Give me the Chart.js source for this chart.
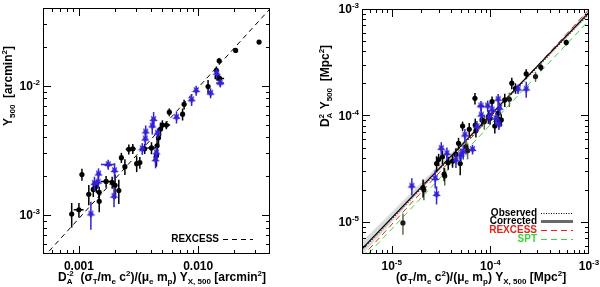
<!DOCTYPE html>
<html>
<head>
<meta charset="utf-8">
<script src="https://cdn.jsdelivr.net/npm/chart.js@4.4.1/dist/chart.umd.min.js"></script>
<style>
html, body { margin: 0; padding: 0; background: #fff; }
#wrap { position: relative; width: 600px; height: 287px; }
.box { position: absolute; top: 0; width: 300px; height: 287px; }
</style>
</head>
<body>
<div id="wrap">
  <div class="box" style="left:0"><canvas id="left" width="300" height="287"></canvas></div>
  <div class="box" style="left:300px"><canvas id="right" width="300" height="287"></canvas></div>
</div>
<script>
// ---- left panel data: Y500 vs Y_X (arcmin^2) ----
var leftBlackX    = [8.7e-4, 1.00e-3, 1.06e-3, 1.21e-3, 1.32e-3, 1.40e-3, 1.48e-3, 1.48e-3, 1.69e-3, 1.90e-3, 2.01e-3, 2.16e-3, 2.27e-3, 2.43e-3, 2.62e-3, 2.83e-3, 3.05e-3, 3.24e-3, 3.56e-3, 4.06e-3, 4.47e-3, 4.52e-3, 4.65e-3, 4.83e-3, 5.01e-3, 5.41e-3, 5.73e-3, 7.40e-3, 7.62e-3, 1.21e-2, 1.42e-2, 1.44e-2, 1.51e-2, 1.50e-2, 2.06e-2, 3.24e-2];
var leftBlackY    = [1.02e-3, 1.10e-3, 2.06e-3, 1.45e-3, 1.58e-3, 1.67e-3, 1.28e-3, 1.50e-3, 1.82e-3, 1.79e-3, 1.70e-3, 1.55e-3, 2.78e-3, 2.37e-3, 3.23e-3, 3.26e-3, 2.50e-3, 2.55e-3, 3.26e-3, 3.31e-3, 2.88e-3, 3.44e-3, 3.96e-3, 4.63e-3, 4.97e-3, 4.97e-3, 6.25e-3, 6.03e-3, 7.19e-3, 9.88e-3, 1.32e-2, 1.18e-2, 1.14e-2, 1.56e-2, 1.88e-2, 2.18e-2];
var leftBlackYErr = [2.2e-4, 1.4e-4, 2.2e-4, 2.6e-4, 2.0e-4, 1.8e-4, 2.3e-4, 1.6e-4, 1.9e-4, 1.9e-4, 3.6e-4, 3.3e-4, 2.5e-4, 3.3e-4, 2.9e-4, 2.9e-4, 3.5e-4, 2.7e-4, 2.9e-4, 3.5e-4, 5.1e-4, 4.9e-4, 5.6e-4, 5.7e-4, 4.4e-4, 3.5e-4, 4.4e-4, 6.4e-4, 6.3e-4, 1.2e-3, 9.3e-4, 8.3e-4, 6.0e-4, 8.0e-4, 6.6e-4, 7.7e-4];
var leftBlackXErr = [0, 9.5e-5, 0, 0, 0, 0, 0, 0, 1.6e-4, 0, 0, 0, 0, 0, 1.5e-4, 1.6e-4, 0, 0, 0, 3.1e-4, 0, 0, 0, 0, 0, 4.1e-4, 0, 0, 0, 0, 4.0e-4, 0, 1.4e-3, 0, 0, 0];

var leftBlueX    = [1.26e-3, 1.35e-3, 1.45e-3, 1.46e-3, 1.76e-3, 1.99e-3, 1.97e-3, 3.40e-3, 3.60e-3, 3.63e-3, 4.12e-3, 4.23e-3, 4.39e-3, 4.47e-3, 4.56e-3, 6.58e-3, 8.81e-3, 9.62e-3, 1.27e-2, 1.43e-2, 1.53e-2];
var leftBlueY    = [1.02e-3, 1.76e-3, 1.80e-3, 2.08e-3, 2.46e-3, 2.21e-3, 1.40e-3, 3.26e-3, 3.88e-3, 4.40e-3, 4.89e-3, 5.50e-3, 2.68e-3, 3.03e-3, 4.31e-3, 5.71e-3, 7.81e-3, 9.20e-3, 8.78e-3, 1.25e-2, 1.05e-2];
var leftBlueYErr = [2.5e-4, 2.2e-4, 1.8e-4, 2.2e-4, 2.2e-4, 3.1e-4, 2.5e-4, 3.4e-4, 4.0e-4, 5.4e-4, 6.9e-4, 7.7e-4, 3.8e-4, 3.2e-4, 3.8e-4, 6.0e-4, 8.3e-4, 8.1e-4, 7.7e-4, 1.1e-3, 7.4e-4];
var leftBlueXErr = [0, 0, 0, 0, 2.3e-4, 0, 0, 0, 0, 0, 0, 0, 0, 0, 0, 0, 0, 0, 0, 0, 1.16e-3];

var leftRexX = [5e-4, 4e-2];
var leftRexY = [4.67e-4, 3.94e-2];

var leftXTicks = [1e-3, 1e-2];
var leftXTickLabels = ['0.001', '0.010'];
var leftYTicks = [1e-3, 1e-2];
var leftYTickExp = ['-3', '-2'];

// ---- right panel data: D_A^2 Y500 vs Y_X (Mpc^2) ----
var rightBlackX    = [2.08e-5, 2.85e-5, 2.99e-5, 3.27e-5, 3.40e-5, 3.74e-5, 4.14e-5, 4.48e-5, 4.76e-5, 4.95e-5, 5.23e-5, 6.11e-5, 6.98e-5, 7.03e-5, 7.14e-5, 8.23e-5, 9.55e-5, 9.93e-5, 1.04e-4, 1.11e-4, 1.20e-4, 1.24e-4, 1.29e-4, 1.40e-4, 1.65e-4, 1.80e-4, 2.31e-4, 3.25e-4, 5.88e-4];
var rightBlackY    = [2.10e-5, 3.54e-5, 3.86e-5, 4.09e-5, 2.81e-5, 3.60e-5, 3.73e-5, 4.31e-5, 5.47e-5, 3.54e-5, 7.96e-5, 7.41e-5, 1.45e-4, 8.14e-5, 7.20e-5, 9.08e-5, 9.75e-5, 9.40e-5, 1.35e-4, 7.96e-5, 1.05e-4, 8.75e-5, 9.08e-5, 1.40e-4, 2.01e-4, 1.80e-4, 2.46e-4, 2.83e-4, 4.85e-4];
var rightBlackYErr = [4e-6, 6e-6, 5e-6, 6e-6, 4e-6, 5e-6, 5e-6, 6e-6, 7e-6, 8e-6, 8e-6, 1.1e-5, 1.8e-5, 1.2e-5, 1.0e-5, 1.2e-5, 1.4e-5, 1.2e-5, 1.6e-5, 1.2e-5, 1.5e-5, 1.0e-5, 1.2e-5, 2.0e-5, 2.5e-5, 2.0e-5, 2.5e-5, 2.0e-5, 3.0e-5];

var rightOliveX    = [1.30e-5, 2.12e-5, 3.45e-5, 5.66e-5, 5.88e-5, 8.69e-5, 1.56e-4, 2.87e-4];
var rightOliveY    = [9.8e-6, 2.0e-5, 2.7e-5, 5.08e-5, 4.67e-5, 8.75e-5, 1.42e-4, 2.32e-4];
var rightOliveYErr = [2.2e-6, 4e-6, 5e-6, 8e-6, 8e-6, 1.4e-5, 2.2e-5, 2.5e-5];

var rightBlueX    = [1.60e-5, 2.76e-5, 2.85e-5, 3.18e-5, 3.63e-5, 4.48e-5, 5.04e-5, 5.31e-5, 5.52e-5, 6.60e-5, 7.31e-5, 8.03e-5, 8.09e-5, 9.39e-5, 9.77e-5, 1.04e-4, 1.14e-4, 1.20e-4, 1.22e-4, 1.24e-4, 1.91e-4, 2.31e-4];
var rightBlueY    = [2.17e-5, 2.56e-5, 1.81e-5, 4.91e-5, 4.40e-5, 3.81e-5, 4.25e-5, 4.56e-5, 6.55e-5, 4.80e-5, 7.85e-5, 1.23e-4, 1.01e-4, 1.23e-4, 9.75e-5, 1.13e-4, 9.40e-5, 1.42e-4, 8.32e-5, 1.17e-4, 1.77e-4, 1.77e-4];
var rightBlueYErr = [4e-6, 5e-6, 3.5e-6, 7e-6, 6e-6, 6e-6, 6e-6, 7e-6, 9e-6, 5e-6, 1e-5, 1.4e-5, 1.4e-5, 1.5e-5, 1.4e-5, 1.4e-5, 1.2e-5, 1.7e-5, 1.0e-5, 1.6e-5, 1.8e-5, 3.0e-5];
var rightBlueXErr = [0, 0, 0, 0, 0, 0, 0, 0, 0, 0, 0, 6e-6, 0, 0, 0, 0, 0, 0, 0, 0, 0, 0];

var rightObsX = [5e-6, 1e-3];
var rightObsY = [5.4e-6, 9.0e-4];
var rightCorX = [5e-6, 1e-3];
var rightCorY = [5.6e-6, 9.3e-4];
var rightRexX = [5e-6, 1e-3];
var rightRexY = [4.7e-6, 9.9e-4];
var rightSptX = [5e-6, 1e-3];
var rightSptY = [4.35e-6, 7.8e-4];
var rightBandX  = [5e-6, 2e-5, 1e-4, 4e-4, 1e-3];
var rightBandHi = [6.5e-6, 2.35e-5, 1.04e-4, 3.95e-4, 9.9e-4];
var rightBandLo = [4.9e-6, 2.02e-5, 1.0e-4, 3.77e-4, 8.7e-4];

var rightXTicks = [1e-5, 1e-4, 1e-3];
var rightXTickExp = ['-5', '-4', '-3'];
var rightYTicks = [1e-5, 1e-4, 1e-3];
var rightYTickExp = ['-5', '-4', '-3'];

var FAMILY = '"Liberation Sans", Arial, Helvetica, sans-serif';
var BLUE = '#3322d6';

function pts(xs, ys) {
  return xs.map(function (x, i) { return { x: x, y: ys[i] }; });
}

function starImg(color, r) {
  var c = document.createElement('canvas');
  var s = Math.ceil(r * 2 + 2);
  c.width = s; c.height = s;
  var g = c.getContext('2d');
  g.fillStyle = color;
  g.beginPath();
  for (var i = 0; i < 10; i++) {
    var a = Math.PI / 2 + i * Math.PI / 5;
    var rr = (i % 2) ? r * 0.45 : r;
    g.lineTo(s / 2 + rr * Math.cos(a), s / 2 + rr * Math.sin(a));
  }
  g.closePath();
  g.fill();
  return c;
}

// rich text: segments are [text, kind, text2]; kind '' | 'sup' | 'sub' | 'both'
function drawRich(ctx, segs, x, y, size, align) {
  var sm = Math.round(size * 0.68);
  var big = 'bold ' + size + 'px ' + FAMILY;
  var small = 'bold ' + sm + 'px ' + FAMILY;
  var widths = segs.map(function (s) {
    if (!s[1]) { ctx.font = big; return ctx.measureText(s[0]).width; }
    ctx.font = small;
    var w = ctx.measureText(s[0]).width;
    if (s[1] === 'both') w = Math.max(w, ctx.measureText(s[2]).width);
    return w;
  });
  var total = widths.reduce(function (a, b) { return a + b; }, 0);
  var cx = align === 'center' ? x - total / 2 : (align === 'right' ? x - total : x);
  var base = y + size * 0.35;
  ctx.textAlign = 'left';
  ctx.textBaseline = 'alphabetic';
  segs.forEach(function (s, i) {
    if (!s[1]) {
      ctx.font = big; ctx.fillText(s[0], cx, base);
    } else {
      ctx.font = small;
      if (s[1] === 'sup') ctx.fillText(s[0], cx, base - size * 0.42);
      if (s[1] === 'sub') ctx.fillText(s[0], cx, base + size * 0.22);
      if (s[1] === 'both') {
        ctx.fillText(s[0], cx, base + size * 0.22);
        ctx.fillText(s[2], cx, base - size * 0.45);
      }
    }
    cx += widths[i];
  });
}

var errorBars = {
  id: 'errorBars',
  beforeDatasetDraw: function (chart, args) {
    var ds = chart.data.datasets[args.index];
    if (!ds.yErr) return;
    var xs = chart.scales.x, ys = chart.scales.y, a = chart.chartArea;
    var ctx = chart.ctx;
    ctx.save();
    ctx.beginPath();
    ctx.rect(a.left, a.top, a.right - a.left, a.bottom - a.top);
    ctx.clip();
    ctx.strokeStyle = ds.errColor;
    ctx.lineWidth = 1.5;
    ds.data.forEach(function (p, i) {
      var px = xs.getPixelForValue(p.x), py = ys.getPixelForValue(p.y);
      var ey = ds.yErr[i], ex = ds.xErr ? ds.xErr[i] : 0;
      ctx.beginPath();
      if (ey) {
        ctx.moveTo(px, ys.getPixelForValue(p.y - ey));
        ctx.lineTo(px, ys.getPixelForValue(p.y + ey));
      }
      if (ex) {
        ctx.moveTo(xs.getPixelForValue(p.x - ex), py);
        ctx.lineTo(xs.getPixelForValue(p.x + ex), py);
      }
      ctx.stroke();
    });
    ctx.restore();
  }
};

var frame = {
  id: 'frame',
  afterDraw: function (chart) {
    var o = chart.options.plugins.frame;
    var ctx = chart.ctx, a = chart.chartArea;
    var xs = chart.scales.x, ys = chart.scales.y;
    ctx.save();
    ctx.strokeStyle = '#000';
    ctx.lineWidth = 1;
    ctx.strokeRect(a.left + 0.5, a.top + 0.5, a.right - a.left - 1, a.bottom - a.top - 1);
    ctx.beginPath();
    function logTicks(sc, fn) {
      var lo = Math.floor(Math.log10(sc.min)), hi = Math.ceil(Math.log10(sc.max));
      for (var d = lo; d <= hi; d++) {
        for (var m = 1; m <= 9; m++) {
          var v = m * Math.pow(10, d);
          if (v < sc.min * 1.0001 || v > sc.max * 0.9999) continue;
          fn(Math.round(sc.getPixelForValue(v)) + 0.5, m === 1 ? 8 : 4);
        }
      }
    }
    logTicks(xs, function (p, len) {
      ctx.moveTo(p, a.bottom); ctx.lineTo(p, a.bottom - len);
      ctx.moveTo(p, a.top); ctx.lineTo(p, a.top + len);
    });
    logTicks(ys, function (p, len) {
      ctx.moveTo(a.left, p); ctx.lineTo(a.left + len, p);
      ctx.moveTo(a.right, p); ctx.lineTo(a.right - len, p);
    });
    ctx.stroke();

    ctx.fillStyle = '#000';
    o.xTicks.forEach(function (v, i) {
      drawRich(ctx, o.xTickSegs[i], xs.getPixelForValue(v), a.bottom + 12, 12, 'center');
    });
    o.yTicks.forEach(function (v, i) {
      drawRich(ctx, o.yTickSegs[i], a.left - 3, ys.getPixelForValue(v), 12, 'right');
    });
    drawRich(ctx, o.xTitle, o.xTitlePos[0], o.xTitlePos[1], 12, 'center');
    ctx.save();
    ctx.translate(o.yTitlePos[0], o.yTitlePos[1]);
    ctx.rotate(-Math.PI / 2);
    drawRich(ctx, o.yTitle, 0, 0, 12, 'center');
    ctx.restore();

    // legend
    o.legend.forEach(function (l) {
      ctx.fillStyle = l.textColor;
      ctx.font = 'bold 10px ' + FAMILY;
      ctx.textAlign = 'right';
      ctx.textBaseline = 'middle';
      ctx.fillText(l.label, l.x, l.y);
      ctx.strokeStyle = l.color;
      ctx.lineWidth = l.width;
      ctx.setLineDash(l.dash);
      ctx.beginPath();
      ctx.moveTo(l.x + 4, l.y + 0.5);
      ctx.lineTo(l.x + l.len, l.y + 0.5);
      ctx.stroke();
      ctx.setLineDash([]);
    });
    ctx.restore();
  }
};

function lineSet(xs, ys, color, width, dash, order) {
  return {
    type: 'line', data: pts(xs, ys), borderColor: color, borderWidth: width,
    borderDash: dash, pointRadius: 0, fill: false, order: order, tension: 0
  };
}

function baseOptions(pad, xr, yr, frameOpts) {
  return {
    responsive: false,
    animation: false,
    layout: { padding: pad },
    scales: {
      x: { type: 'logarithmic', min: xr[0], max: xr[1], display: false },
      y: { type: 'logarithmic', min: yr[0], max: yr[1], display: false }
    },
    plugins: { legend: { display: false }, tooltip: { enabled: false }, frame: frameOpts }
  };
}

var blueStar = starImg(BLUE, 4.5);

new Chart(document.getElementById('left'), {
  type: 'scatter',
  data: {
    datasets: [
      lineSet(leftRexX, leftRexY, '#000', 1, [5, 4], 10),
      { data: pts(leftBlackX, leftBlackY), yErr: leftBlackYErr, xErr: leftBlackXErr, errColor: '#000',
        pointStyle: 'circle', pointRadius: 2.6, backgroundColor: '#000', borderWidth: 0, order: 3 },
      { data: pts(leftBlueX, leftBlueY), yErr: leftBlueYErr, xErr: leftBlueXErr, errColor: BLUE,
        pointStyle: blueStar, order: 2 }
    ]
  },
  options: baseOptions({ left: 43, right: 30, top: 8, bottom: 33 }, [5e-4, 4e-2], [5e-4, 4e-2], {
    xTicks: leftXTicks,
    xTickSegs: leftXTickLabels.map(function (t) { return [[t]]; }),
    yTicks: leftYTicks,
    yTickSegs: leftYTickExp.map(function (e) { return [['10'], [e, 'sup']]; }),
    xTitle: [['D'], ['A', 'both', '-2'], ['  (σ'], ['T', 'sub'], ['/m'], ['e', 'sub'], [' c'], ['2', 'sup'],
             [')/(μ'], ['e', 'sub'], [' m'], ['p', 'sub'], [') Y'], ['X, 500', 'sub'], [' [arcmin'], ['2', 'sup'], [']']],
    xTitlePos: [162, 277],
    yTitle: [['Y'], ['500', 'sub'], ['  [arcmin'], ['2', 'sup'], [']']],
    yTitlePos: [8, 86],
    legend: [
      { label: 'REXCESS', x: 219, y: 239, len: 34, color: '#000', textColor: '#000', width: 1, dash: [5, 4] }
    ]
  }),
  plugins: [errorBars, frame]
});

new Chart(document.getElementById('right'), {
  type: 'scatter',
  data: {
    datasets: [
      { type: 'line', data: pts(rightBandX, rightBandLo), borderWidth: 0, pointRadius: 0, fill: false, order: 20 },
      { type: 'line', data: pts(rightBandX, rightBandHi), borderWidth: 0, pointRadius: 0, fill: '-1',
        backgroundColor: 'rgba(190,190,190,0.55)', order: 19 },
      lineSet(rightSptX, rightSptY, '#3ad63a', 1, [6, 4], 12),
      lineSet(rightRexX, rightRexY, '#e3231c', 1, [6, 4], 11),
      lineSet(rightObsX, rightObsY, '#000', 1, [1, 2], 10),
      lineSet(rightCorX, rightCorY, '#000', 1.2, [], 9),
      { data: pts(rightOliveX, rightOliveY), yErr: rightOliveYErr, errColor: '#5f6d45',
        pointStyle: 'circle', pointRadius: 2.6, backgroundColor: '#1a1a1a', borderWidth: 0, order: 4 },
      { data: pts(rightBlackX, rightBlackY), yErr: rightBlackYErr, errColor: '#000',
        pointStyle: 'circle', pointRadius: 2.6, backgroundColor: '#000', borderWidth: 0, order: 3 },
      { data: pts(rightBlueX, rightBlueY), yErr: rightBlueYErr, xErr: rightBlueXErr, errColor: BLUE,
        pointStyle: blueStar, order: 2 }
    ]
  },
  options: baseOptions({ left: 62, right: 11, top: 9, bottom: 33 }, [5e-6, 1e-3], [5e-6, 1e-3], {
    xTicks: rightXTicks,
    xTickSegs: rightXTickExp.map(function (e) { return [['10'], [e, 'sup']]; }),
    yTicks: rightYTicks,
    yTickSegs: rightYTickExp.map(function (e) { return [['10'], [e, 'sup']]; }),
    xTitle: [['(σ'], ['T', 'sub'], ['/m'], ['e', 'sub'], [' c'], ['2', 'sup'], [')/(μ'], ['e', 'sub'], [' m'],
             ['p', 'sub'], [') Y'], ['X, 500', 'sub'], [' [Mpc'], ['2', 'sup'], [']']],
    xTitlePos: [181, 277],
    yTitle: [['D'], ['A', 'both', '2'], [' Y'], ['500', 'sub'], ['  [Mpc'], ['2', 'sup'], [']']],
    yTitlePos: [25, 86],
    legend: [
      { label: 'Observed', x: 237, y: 213, len: 36, color: '#000', textColor: '#000', width: 1, dash: [1, 1.5] },
      { label: 'Corrected', x: 237, y: 221, len: 36, color: '#6a6a6a', textColor: '#000', width: 3, dash: [] },
      { label: 'REXCESS', x: 237, y: 230, len: 36, color: '#e3231c', textColor: '#e3231c', width: 1, dash: [6, 4] },
      { label: 'SPT', x: 237, y: 239, len: 36, color: '#3ad63a', textColor: '#3ad63a', width: 1, dash: [6, 4] }
    ]
  }),
  plugins: [errorBars, frame]
});
</script>
</body>
</html>
